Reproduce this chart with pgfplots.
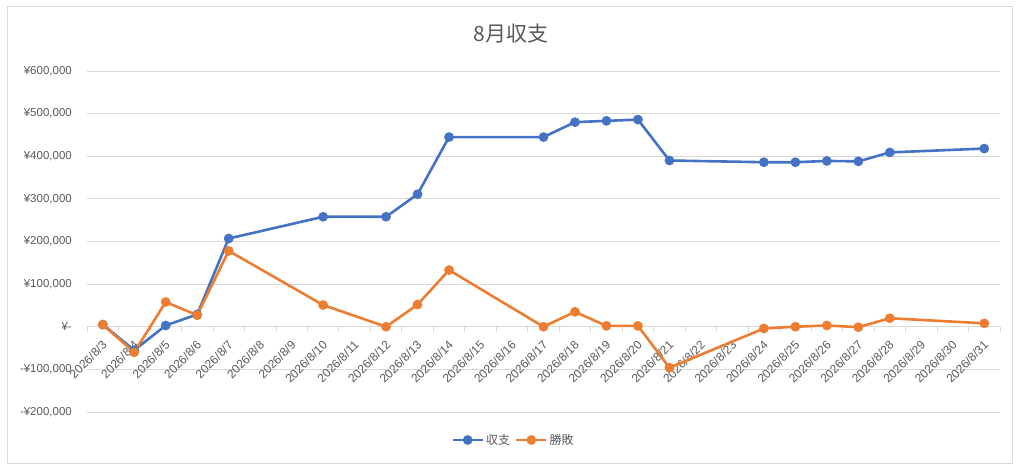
\documentclass[border=0pt]{standalone}
\usepackage{pgfplots}
\pgfplotsset{compat=1.18}
\usepackage{fontspec}
\setmainfont{Liberation Sans}
\newfontfamily\cjk{Noto Sans CJK JP}
\definecolor{cblue}{HTML}{4472C4}
\definecolor{corange}{HTML}{ED7D31}
\definecolor{cgrid}{HTML}{D9D9D9}
\definecolor{ctext}{HTML}{595959}
\begin{document}
\begin{tikzpicture}
\path[use as bounding box] (0,0) rectangle (1024bp,475bp);
\draw[cgrid, line width=0.75bp] (7bp,12bp) rectangle (1012bp,469bp);
\node[text=ctext, font=\cjk\fontsize{21bp}{23bp}\selectfont] at (511bp,441bp) {8月収支};
\begin{axis}[
  at={(87bp,63bp)}, anchor=south west,
  scale only axis, width=913bp, height=341bp,
  xmin=2.5, xmax=31.5, ymin=-200000, ymax=600000,
  axis x line*=middle, axis y line*=left,
  x axis line style={cgrid, line width=0.75bp, -},
  y axis line style={draw=none},
  scaled y ticks=false,
  xtick={3,...,31},
  xticklabels={2026/8/3,2026/8/4,2026/8/5,2026/8/6,2026/8/7,2026/8/8,2026/8/9,2026/8/10,2026/8/11,2026/8/12,2026/8/13,2026/8/14,2026/8/15,2026/8/16,2026/8/17,2026/8/18,2026/8/19,2026/8/20,2026/8/21,2026/8/22,2026/8/23,2026/8/24,2026/8/25,2026/8/26,2026/8/27,2026/8/28,2026/8/29,2026/8/30,2026/8/31},
  minor xtick={2.5,3.5,...,31.5},
  xtick align=outside,
  major x tick style={draw=none},
  minor x tick style={cgrid, line width=0.75bp},
  minor tick length=5bp,
  xticklabel style={xshift=2bp, yshift=-12bp, rotate=45, anchor=east, inner sep=0pt, text=ctext, font=\fontsize{12bp}{14bp}\selectfont},
  ytick={-200000,-100000,0,100000,200000,300000,400000,500000,600000},
  yticklabels={{-¥200,000},{-¥100,000},{¥-\hspace{6bp}},{¥100,000},{¥200,000},{¥300,000},{¥400,000},{¥500,000},{¥600,000}},
  ymajorgrids, major grid style={cgrid, line width=0.75bp},
  major y tick style={draw=none},
  yticklabel style={inner sep=0pt, xshift=-15bp, anchor=east, text=ctext, font=\fontsize{11.5bp}{14bp}\selectfont},
  /pgf/number format/assume math mode=true,
  legend style={at={(0.5,0)}, anchor=center, xshift=-30bp, yshift=-28bp, draw=none, fill=none, legend columns=2, font=\cjk\fontsize{12bp}{14bp}\selectfont, text=ctext, /tikz/every even column/.append style={column sep=3bp}, inner sep=0pt},
  legend image code/.code={\draw[mark repeat=2, mark phase=2] plot coordinates {(0bp,0bp) (15bp,0bp) (30bp,0bp)};},
  clip=false,
]
\addplot[cblue, line width=2.6bp, mark=*, mark size=3.5bp] coordinates {
(3,5000) (4,-55000) (5,3000) (6,29000) (7,207000) (10,258000) (12,258000) (13,311000) (14,445000) (17,445000) (18,480000) (19,483000) (20,486000) (21,390000) (24,386000) (25,386000) (26,389000) (27,388000) (28,409000) (31,418000)
};
\addlegendentry{収支}
\addplot[corange, line width=2.6bp, mark=*, mark size=3.5bp] coordinates {
(3,5000) (4,-60000) (5,58000) (6,27000) (7,178000) (10,51000) (12,0) (13,52000) (14,133000) (17,0) (18,35000) (19,2000) (20,2000) (21,-96000) (24,-4000) (25,0) (26,3000) (27,-1000) (28,20000) (31,8000)
};
\addlegendentry{勝敗}
\end{axis}
\end{tikzpicture}
\end{document}
